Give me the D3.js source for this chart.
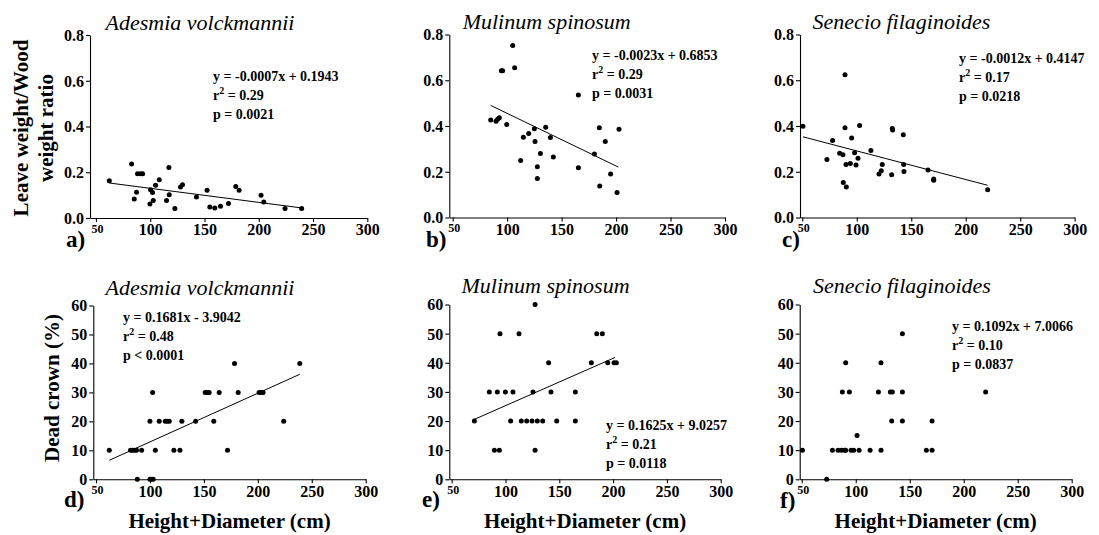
<!DOCTYPE html>
<html><head><meta charset="utf-8">
<script src="https://cdn.jsdelivr.net/npm/d3@7"></script>
<style>
body{margin:0;background:#fff}
svg{display:block}
</style>
</head><body>
<svg id="chart" width="1099" height="535"></svg>
<script>
// ---------- data ----------
const xTicks = [50, 100, 150, 200, 250, 300];
const ratioTicks = [0, 0.2, 0.4, 0.6, 0.8];
const deadTicks = [0, 10, 20, 30, 40, 50, 60];
const speciesNames = ["Adesmia volckmannii", "Mulinum spinosum", "Senecio filaginoides"];
const panelLetters = ["a)", "b)", "c)", "d)", "e)", "f)"];
const ratioTitle = ["Leave weight/Wood", "weight ratio"];
const deadTitle = "Dead crown (%)";
const xTitle = "Height+Diameter (cm)";

const adesmiaRatioX = [62.3, 82.8, 85.3, 87.4, 88.3, 91.1, 93.0, 99.7, 100.3, 102.1, 102.8, 104.9, 108.3, 115.0, 117.2, 117.5, 122.7, 127.9, 129.7, 142.6, 152.4, 154.9, 159.5, 164.7, 172.1, 178.8, 181.9, 202.1, 204.6, 224.2, 239.5];
const adesmiaRatioY = [0.163, 0.236, 0.083, 0.113, 0.193, 0.193, 0.193, 0.061, 0.124, 0.112, 0.077, 0.143, 0.167, 0.077, 0.221, 0.102, 0.041, 0.135, 0.145, 0.092, 0.121, 0.048, 0.044, 0.051, 0.063, 0.138, 0.121, 0.100, 0.070, 0.041, 0.041];

const mulinumRatioX = [84.9, 89.8, 91.3, 92.8, 94.7, 95.9, 99.6, 105.1, 106.9, 112.4, 114.9, 119.8, 125.0, 125.6, 127.7, 127.7, 130.5, 135.4, 139.7, 142.4, 165.4, 165.4, 180.1, 184.6, 185.0, 190.1, 195.0, 200.9, 202.7];
const mulinumRatioY = [0.426, 0.421, 0.430, 0.436, 0.641, 0.641, 0.407, 0.752, 0.655, 0.249, 0.351, 0.367, 0.388, 0.332, 0.222, 0.171, 0.280, 0.395, 0.350, 0.265, 0.535, 0.217, 0.278, 0.392, 0.138, 0.332, 0.190, 0.109, 0.386];

const senecioRatioX = [50.6, 72.6, 77.8, 84.3, 87.3, 87.6, 89.2, 89.2, 90.1, 90.4, 94.1, 95.3, 98.0, 99.3, 101.1, 102.6, 113.0, 120.4, 122.5, 123.4, 132.0, 132.6, 132.9, 142.7, 143.0, 143.3, 165.4, 170.6, 170.6, 220.1];
const senecioRatioY = [0.399, 0.254, 0.337, 0.281, 0.274, 0.153, 0.624, 0.392, 0.232, 0.133, 0.236, 0.348, 0.283, 0.230, 0.259, 0.402, 0.293, 0.190, 0.204, 0.232, 0.187, 0.389, 0.383, 0.362, 0.232, 0.201, 0.208, 0.168, 0.163, 0.121];

const adesmiaDeadX = [62.3, 82.0, 84.0, 85.8, 87.6, 88.3, 92.3, 100.0, 100.0, 101.5, 103.0, 102.5, 105.0, 108.6, 114.2, 116.0, 117.9, 122.2, 127.8, 129.6, 142.3, 151.2, 153.1, 154.9, 159.2, 164.2, 171.9, 178.4, 181.8, 201.2, 203.1, 204.9, 224.0, 238.9];
const adesmiaDeadY = [10, 10, 10, 10, 10, 0, 10, 20, 0, 0, 0, 30, 10, 20, 20, 20, 20, 10, 10, 20, 20, 30, 30, 30, 20, 30, 10, 40, 30, 30, 30, 30, 20, 40];

const mulinumDeadX = [71.1, 85.0, 89.7, 92.4, 94.3, 94.9, 99.9, 104.8, 107.0, 112.6, 114.7, 119.7, 124.7, 125.6, 127.5, 127.5, 129.6, 134.6, 140.1, 142.3, 147.6, 164.9, 164.9, 179.8, 184.8, 190.0, 195.0, 200.9, 203.0];
const mulinumDeadY = [20, 30, 10, 30, 10, 50, 30, 20, 30, 50, 20, 20, 20, 30, 60, 10, 20, 20, 40, 30, 20, 30, 20, 40, 50, 50, 40, 40, 40];

const senecioDeadX = [50.6, 73.1, 78.4, 83.6, 86.7, 87.6, 89.8, 90.7, 90.7, 94.1, 95.7, 98.1, 101.2, 103.1, 113.3, 121.0, 123.4, 123.4, 132.1, 133.9, 133.3, 143.2, 143.2, 143.2, 165.4, 170.7, 170.7, 220.3];
const senecioDeadY = [10, 0, 10, 10, 10, 30, 10, 40, 10, 30, 10, 10, 15, 10, 10, 30, 40, 10, 30, 30, 20, 50, 30, 20, 10, 20, 10, 30];

// fitted lines as drawn in the figure
const fitSlopes = [-0.000615, -0.0023, -0.00125, 0.1681, 0.1625, null];
const fitIntercepts = [0.1913, 0.6853, 0.416, -3.9042, 9.0257, null];
const fitRanges = [[62.3, 239.5], [84.9, 202.1], [50.6, 220.1], [62.3, 238.9], [71.1, 201.8], null];

const eqLabels = ["y = -0.0007x + 0.1943", "y = -0.0023x + 0.6853", "y = -0.0012x + 0.4147",
                  "y = 0.1681x - 3.9042", "y = 0.1625x + 9.0257", "y = 0.1092x + 7.0066"];
const r2Labels = ["0.29", "0.29", "0.17", "0.48", "0.21", "0.10"];
const pLabels = ["p = 0.0021", "p = 0.0031", "p = 0.0218", "p < 0.0001", "p = 0.0118", "p = 0.0837"];

// ---------- layout ----------
const FONT = '"Liberation Serif","Times New Roman",Times,serif';
const panels = [
  {xs: adesmiaRatioX, ys: adesmiaRatioY, yDomain: [0, 0.8], yTicks: ratioTicks, fmt: d3.format(".1f")},
  {xs: mulinumRatioX, ys: mulinumRatioY, yDomain: [0, 0.8], yTicks: ratioTicks, fmt: d3.format(".1f")},
  {xs: senecioRatioX, ys: senecioRatioY, yDomain: [0, 0.8], yTicks: ratioTicks, fmt: d3.format(".1f")},
  {xs: adesmiaDeadX, ys: adesmiaDeadY, yDomain: [0, 60], yTicks: deadTicks, fmt: d3.format("d")},
  {xs: mulinumDeadX, ys: mulinumDeadY, yDomain: [0, 60], yTicks: deadTicks, fmt: d3.format("d")},
  {xs: senecioDeadX, ys: senecioDeadY, yDomain: [0, 60], yTicks: deadTicks, fmt: d3.format("d")}
];
const geo = [
  {left: 90,    right: 367.3,  top: 35,    bottom: 218,   xMin: 44.5, titleX: 200,   titleY: 29.5, sx: 213, sy: 76,  lx: 66,  ly: 247},
  {left: 449.3, right: 725,    top: 34.5,  bottom: 217.5, xMin: 46.9, titleX: 546.7, titleY: 29,   sx: 592, sy: 55,  lx: 426, ly: 247},
  {left: 800,   right: 1074.7, top: 34.5,  bottom: 217.5, xMin: 47.9, titleX: 901.5, titleY: 29,   sx: 959, sy: 58,  lx: 782, ly: 247},
  {left: 93.3,  right: 365.7,  top: 305.5, bottom: 479.3, xMin: 47.5, titleX: 200,   titleY: 295,  sx: 123, sy: 317, lx: 64,  ly: 507},
  {left: 449.3, right: 720.7,  top: 304.5, bottom: 479.3, xMin: 47.8, titleX: 545.5, titleY: 293,  sx: 606, sy: 425, lx: 422, ly: 507},
  {left: 799.7, right: 1071.7, top: 304.5, bottom: 479.3, xMin: 48.1, titleX: 902,   titleY: 293,  sx: 952, sy: 326, lx: 780, ly: 508}
];

const svg = d3.select("#chart");

function txt(sel, size, weight, style) {
  return sel.style("font-family", FONT).style("font-size", size + "px")
    .style("font-weight", weight || "normal").style("font-style", style || "normal").style("fill", "#000");
}

panels.forEach((p, i) => {
  const g = geo[i];
  const x = d3.scaleLinear().domain([g.xMin, 300]).range([g.left, g.right]);
  const y = d3.scaleLinear().domain(p.yDomain).range([g.bottom, g.top]);
  const pg = svg.append("g");

  // axes
  const xa = pg.append("g").attr("transform", `translate(0,${g.bottom})`)
    .call(d3.axisBottom(x).tickValues(xTicks).tickSize(4).tickSizeOuter(0).tickPadding(2));
  const ya = pg.append("g").attr("transform", `translate(${g.left},0)`)
    .call(d3.axisLeft(y).tickValues(p.yTicks).tickFormat(p.fmt).tickSize(4).tickSizeOuter(0).tickPadding(2));
  [xa, ya].forEach(a => {
    a.selectAll("path,line").attr("stroke", "#000").attr("stroke-width", 1.1);
    txt(a.selectAll("text"), 16, "bold");
  });
  ya.selectAll("text").attr("dy", "0.34em");
  xa.selectAll(".tick").filter(d => d === 50).select("text").style("font-size", "12px").attr("dx", 1);

  // regression line
  if (fitSlopes[i] !== null) {
    const [a0, a1] = fitRanges[i];
    const pts = [a0, a1].map(v => [v, fitSlopes[i] * v + fitIntercepts[i]]);
    pg.append("path")
      .attr("d", d3.line().x(d => x(d[0])).y(d => y(d[1]))(pts))
      .attr("stroke", "#000").attr("stroke-width", 1).attr("fill", "none");
  }

  // points
  pg.append("g").selectAll("circle").data(p.xs.map((v, k) => [v, p.ys[k]])).join("circle")
    .attr("cx", d => x(d[0])).attr("cy", d => y(d[1])).attr("r", 2.5).attr("fill", "#000");

  // species title
  txt(pg.append("text").attr("x", g.titleX).attr("y", g.titleY).attr("text-anchor", "middle"), 22, "normal", "italic")
    .text(speciesNames[i % 3]);

  // stats
  txt(pg.append("text").attr("x", g.sx).attr("y", g.sy + 4.5), 14, "bold").text(eqLabels[i]);
  const r2 = txt(pg.append("text").attr("x", g.sx).attr("y", g.sy + 4.5 + 19), 14, "bold");
  r2.append("tspan").text("r");
  r2.append("tspan").attr("dy", -6).style("font-size", "10px").text("2");
  r2.append("tspan").attr("dy", 6).text(" = " + r2Labels[i]);
  txt(pg.append("text").attr("x", g.sx).attr("y", g.sy + 4.5 + 38), 14, "bold").text(pLabels[i]);

  // panel letter
  txt(pg.append("text").attr("x", g.lx).attr("y", g.ly), 23, "bold").text(panelLetters[i]);

  // x title on bottom row
  if (i >= 3) {
    txt(pg.append("text").attr("x", (g.left + g.right) / 2).attr("y", 528).attr("text-anchor", "middle"), 21, "bold")
      .text(xTitle);
  }
});

// y-axis titles
const yt1 = txt(svg.append("text").attr("transform", "translate(0,128) rotate(-90)")
  .attr("text-anchor", "middle"), 21, "bold");
yt1.append("tspan").attr("x", 0).attr("y", 28).text(ratioTitle[0]);
yt1.append("tspan").attr("x", 0).attr("y", 53).text(ratioTitle[1]);

txt(svg.append("text").attr("transform", "translate(59,388) rotate(-90)")
  .attr("text-anchor", "middle"), 21, "bold").text(deadTitle);
</script>
</body></html>
